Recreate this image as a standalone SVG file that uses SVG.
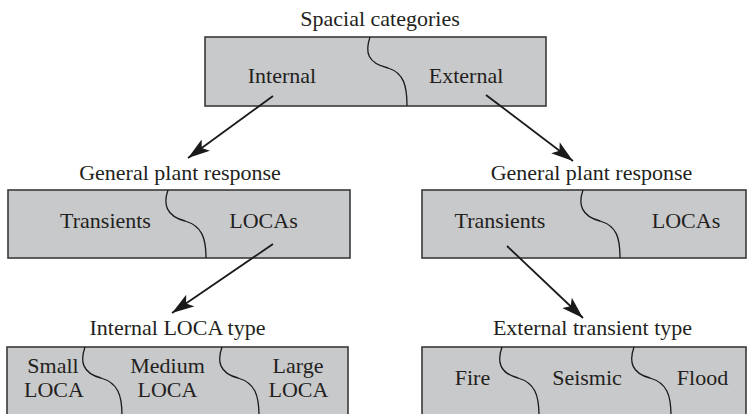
<svg xmlns="http://www.w3.org/2000/svg" width="750" height="414" viewBox="0 0 750 414">
<defs>
<style>
.box{fill:#c8c9cb;stroke:#3a3a3a;stroke-width:1.6}
.cv{fill:none;stroke:#1a1a1a;stroke-width:1.3}
.t{font-family:"Liberation Serif","Times New Roman",serif;font-size:22px;fill:#231f20;text-anchor:middle}
.ttl{font-family:"Liberation Serif","Times New Roman",serif;font-size:22px;fill:#231f20;text-anchor:middle}
.arr{fill:none;stroke:#1a1a1a;stroke-width:1.8;marker-end:url(#ah)}
</style>
<marker id="ah" markerUnits="userSpaceOnUse" markerWidth="24" markerHeight="16" refX="22" refY="7" orient="auto" viewBox="0 0 24 14">
<path d="M0,0 L22,7 L0,14 L5,7 z" fill="#1a1a1a"/>
</marker>
</defs>
<rect width="750" height="414" fill="#ffffff"/>

<g id="spacial">
<text class="ttl" x="380" y="26">Spacial categories</text>
<rect class="box" x="205" y="37" width="341" height="69"/>
<path class="cv" d="M370,37 C365,52 367,63 388,68 C404,73 407,86 407,106"/>
<text class="t" x="282" y="83">Internal</text>
<text class="t" x="466" y="83">External</text>
</g>

<g id="plant-left">
<text class="ttl" x="180" y="180">General plant response</text>
<rect class="box" x="8" y="190" width="342" height="68"/>
<path class="cv" d="M168,190 C163,204 166,216 185,221 C202,226 206,238 206,258"/>
<text class="t" x="105.5" y="228">Transients</text>
<text class="t" x="263.5" y="228">LOCAs</text>
</g>

<g id="plant-right">
<text class="ttl" x="591.5" y="180">General plant response</text>
<rect class="box" x="422" y="190" width="324" height="68"/>
<path class="cv" d="M583,190 C578,204 581,216 600,221 C617,226 620,238 620,258"/>
<text class="t" x="500" y="228">Transients</text>
<text class="t" x="686" y="228">LOCAs</text>
</g>

<g id="loca-type">
<text class="ttl" x="177.5" y="335">Internal LOCA type</text>
<rect class="box" x="7" y="347" width="341" height="72"/>
<path class="cv" d="M85,347 C80,361 82,373 101,378 C118,383 122,395 122,416"/>
<path class="cv" d="M222,347 C217,361 219,373 238,378 C255,383 259,395 259,416"/>
<text class="t" x="53" y="372.7">Small</text>
<text class="t" x="54" y="396.7">LOCA</text>
<text class="t" x="167.5" y="372.7">Medium</text>
<text class="t" x="167.5" y="396.7">LOCA</text>
<text class="t" x="298" y="372.7">Large</text>
<text class="t" x="298.5" y="396.7">LOCA</text>
</g>

<g id="transient-type">
<text class="ttl" x="592.5" y="335">External transient type</text>
<rect class="box" x="422" y="347" width="324" height="72"/>
<path class="cv" d="M502,347 C497,361 499,373 518,378 C535,383 539,395 539,416"/>
<path class="cv" d="M634,347 C629,361 631,373 650,378 C667,383 671,395 671,416"/>
<text class="t" x="472.5" y="385">Fire</text>
<text class="t" x="587" y="385">Seismic</text>
<text class="t" x="702.5" y="385">Flood</text>
</g>

<g id="connectors">
<line class="arr" x1="273" y1="96" x2="188" y2="158"/>
<line class="arr" x1="486" y1="95" x2="573" y2="161"/>
<line class="arr" x1="273" y1="244" x2="172" y2="313"/>
<line class="arr" x1="507" y1="246" x2="583" y2="318"/>
</g>
</svg>
